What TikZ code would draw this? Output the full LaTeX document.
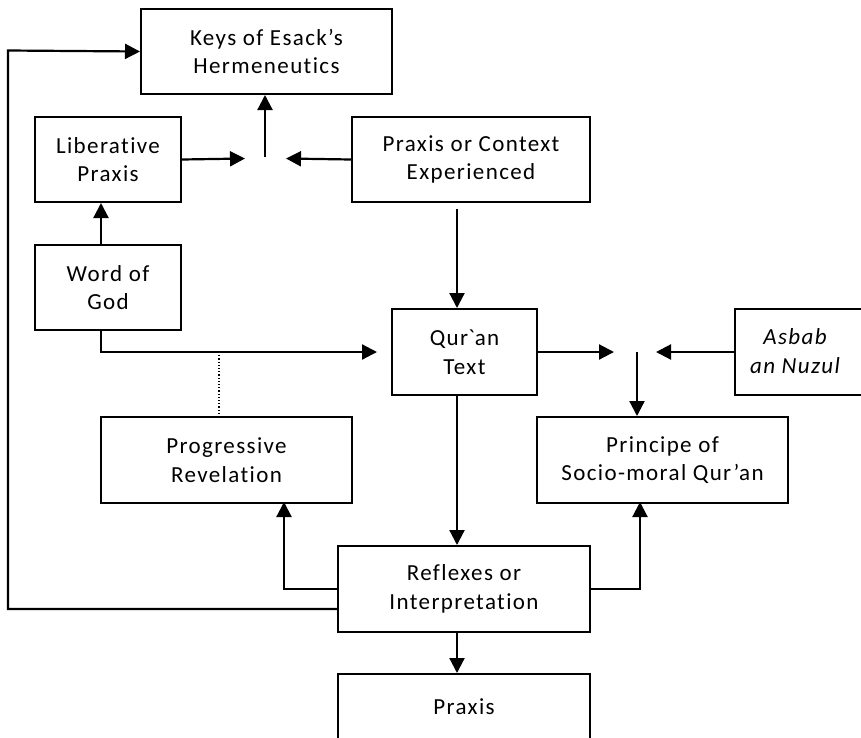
\documentclass[tikz,border=0pt]{standalone}
\usepackage{fontspec}
\setmainfont{Carlito}[LetterSpace=6,Ligatures={NoCommon,NoRare,NoContextual}]
\usetikzlibrary{arrows.meta}
\begin{document}
\begin{tikzpicture}[x=1pt,y=-1pt,
  box/.style={draw,line width=2pt,align=center,inner sep=0pt,anchor=north west,
    font=\fontsize{23}{28.5}\selectfont},
  con/.style={line width=2.2pt,-{Triangle[length=15pt,width=15pt]}},
  ln/.style={line width=2.2pt}]
\useasboundingbox (0,0) rectangle (861,737);
\clip (0,0) rectangle (861,737);
% boxes
\node[box,minimum width=251pt,minimum height=85pt] (keys) at (140,8) {Keys of Esack’s\\Hermeneutics};
\node[box,minimum width=146pt,minimum height=85pt] (lib) at (34,116) {Liberative\\Praxis};
\node[box,minimum width=238pt,minimum height=85pt] (pce) at (351,116) {Praxis or Context\\Experienced};
\node[box,minimum width=146pt,minimum height=85pt] (wog) at (34,244) {Word of\\God};
\node[box,minimum width=145pt,minimum height=86pt] (quran) at (391,308) {Qur\textasciigrave an\\Text};
\node[box,minimum width=146pt,minimum height=86pt] (asbab) at (734,308) {};
\node[align=center,font=\fontsize{23}{28.5}\selectfont\itshape] (asbabt) at (795,351) {Asbab\\an Nuzul};
\node[box,minimum width=251pt,minimum height=86pt] (prog) at (100,416) {Progressive\\Revelation};
\node[box,minimum width=251pt,minimum height=86pt] (princ) at (536,416) {Principe of\\Socio-moral Qur’an};
\node[box,minimum width=252pt,minimum height=86pt] (refl) at (337,545) {Reflexes or\\Interpretation};
\node[box,minimum width=252pt,minimum height=66pt] (praxis) at (337,673) {Praxis};
% junction points
\coordinate (jl) at (245,158.5);
\coordinate (jr) at (286,158.5);
\coordinate (jt) at (265,157);
\coordinate (c1) at (457,209);
\coordinate (wq) at (377,352);
\coordinate (dt) at (219,352);
\coordinate (ql) at (614,352);
\coordinate (qr) at (656,352);
\coordinate (qt) at (637,352);
\coordinate (pl) at (284,502);
\coordinate (pr) at (640,502);
\coordinate (lp) at (8,50.5);
% connectors
\draw[con] (lib.east) -- (jl);
\draw[con] (pce.west) -- (jr);
\draw[con] (jt) -- (jt |- keys.south);
\draw[con] ([xshift=-7pt]wog.north) -- ([xshift=-7pt]lib.south);
\draw[con] (c1) -- (c1 |- quran.north);
\draw[con] ([xshift=-7pt]wog.south) |- (wq);
\draw[dotted,line width=1.2pt] (dt) -- (dt |- prog.north);
\draw[con] (quran.east |- ql) -- (ql);
\draw[con] (asbab.west |- qr) -- (qr);
\draw[con] (qt) -- (qt |- princ.north);
\draw[con] (quran.south -| c1) -- (refl.north -| c1);
\draw[con] (refl.west) -| (pl);
\draw[con] (refl.east) -| (pr);
\draw[con] ([yshift=-20pt]refl.west) -| (lp) -- (keys.west);
\draw[con] (refl.south -| c1) -- (praxis.north -| c1);
\end{tikzpicture}
\end{document}
